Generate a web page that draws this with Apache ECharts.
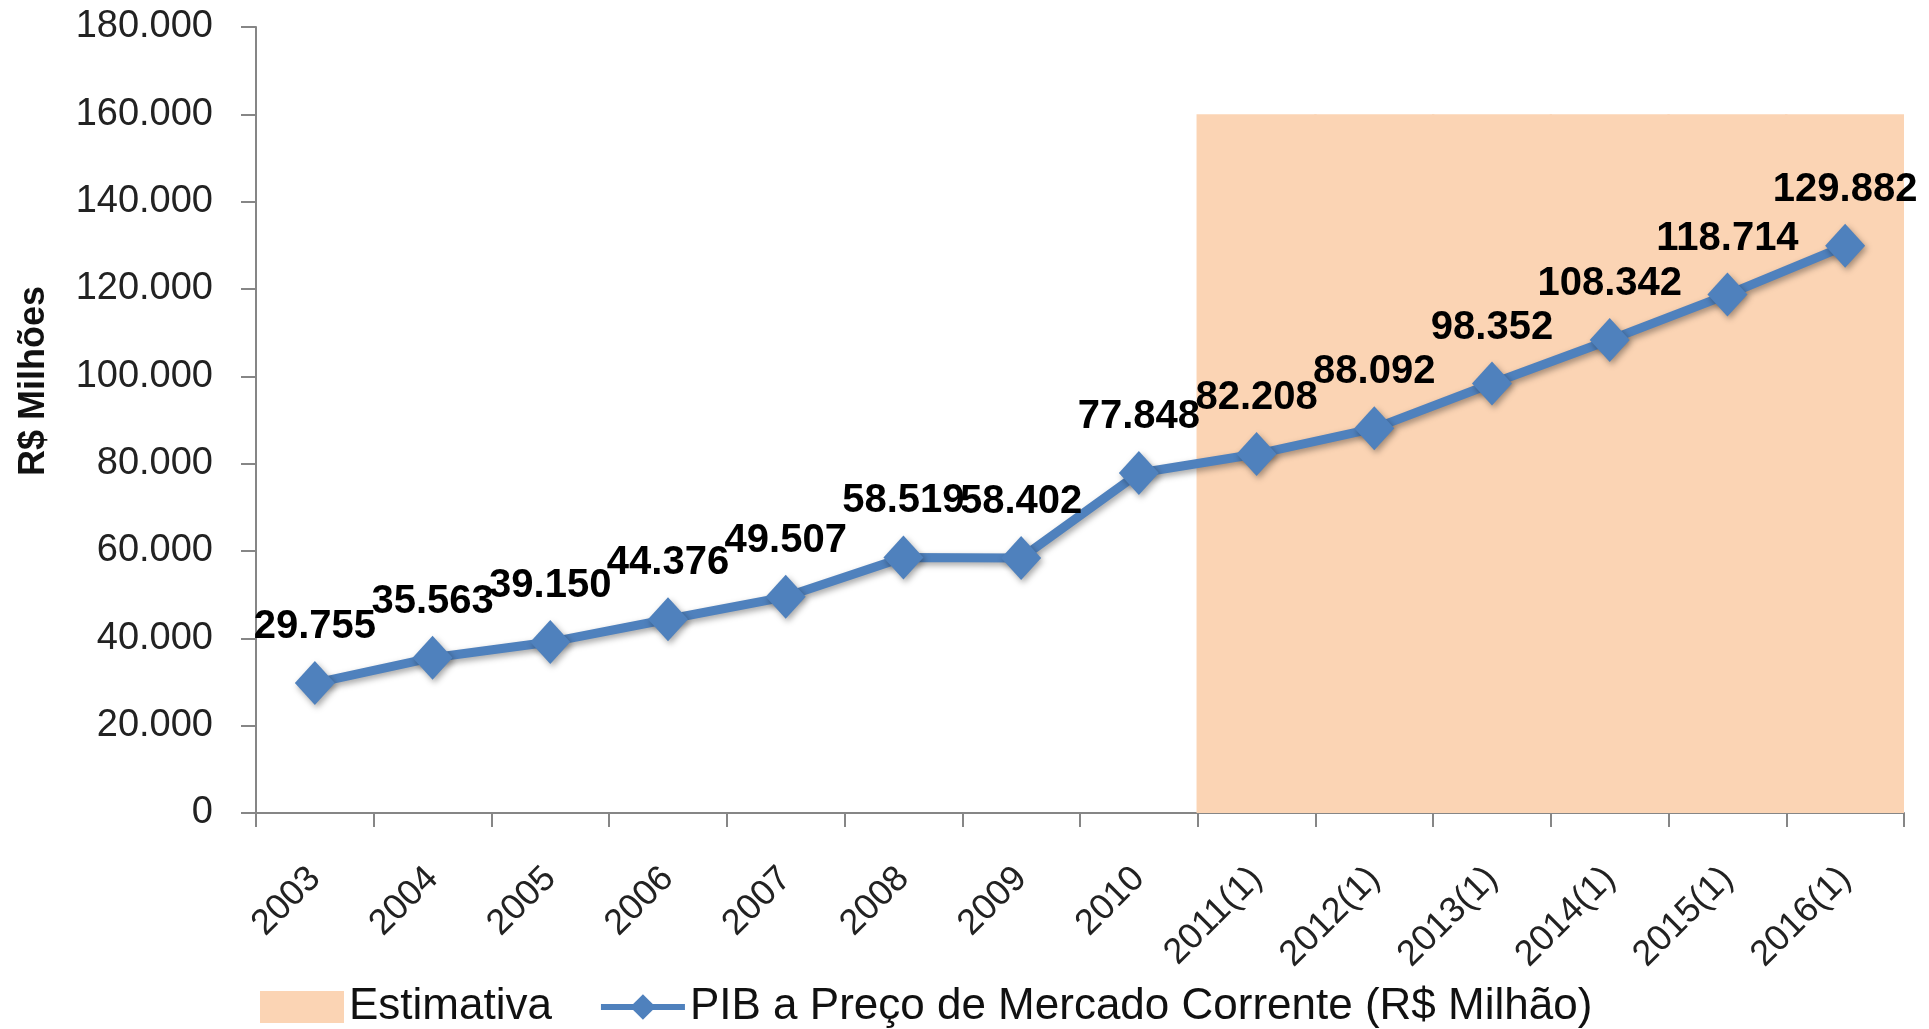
<!DOCTYPE html>
<html>
<head>
<meta charset="utf-8">
<title>PIB a Preço de Mercado Corrente</title>
<script src="https://cdn.jsdelivr.net/npm/echarts@6/dist/echarts.min.js"></script>
<style>
  html, body { margin: 0; padding: 0; background: #fff; }
  #chart { width: 1929px; height: 1029px; }
</style>
</head>
<body>
<div id="chart"></div>
<script>
// values
const categories = ['2003', '2004', '2005', '2006', '2007', '2008', '2009', '2010',
  '2011(1)', '2012(1)', '2013(1)', '2014(1)', '2015(1)', '2016(1)']
const pib = [29755, 35563, 39150, 44376, 49507, 58519, 58402, 77848,
  82208, 88092, 98352, 108342, 118714, 129882]
// shaded "Estimativa" band: filled up to 160.000 for the estimated years
const estimativa = [null, null, null, null, null, null, null, null,
  160000, 160000, 160000, 160000, 160000, 160000]
const yMax = 180000
const yStep = 20000

const fontFamily = '"Liberation Sans", Arial, sans-serif'
const lineColor = '#4F81BD'
const bandColor = '#FBD4B4'
const axisColor = '#868686'

// 29755 -> "29.755"
function fmt(v) {
  return String(v).replace(/\B(?=(\d{3})+(?!\d))/g, '.')
}

const chart = echarts.init(document.getElementById('chart'))
chart.setOption({
  animation: false,
  textStyle: { fontFamily },
  grid: { left: 256, right: 25, top: 27, bottom: 216 },
  legend: {
    left: 255,
    top: 980,
    itemWidth: 84,
    itemHeight: 32,
    itemGap: 46,
    textStyle: { fontSize: 44, color: '#111', fontFamily },
    data: [
      { name: 'Estimativa', icon: 'rect' },
      { name: 'PIB a Preço de Mercado Corrente (R$ Milhão)', lineStyle: { width: 6 } }
    ]
  },
  xAxis: {
    type: 'category',
    data: categories,
    axisLine: { lineStyle: { color: axisColor, width: 2 } },
    axisTick: { show: true, length: 14, lineStyle: { color: axisColor, width: 2 } },
    axisLabel: { rotate: 45, margin: 60, fontSize: 36, color: '#222', interval: 0 }
  },
  yAxis: {
    type: 'value',
    min: 0,
    max: yMax,
    interval: yStep,
    name: 'R$ Milhões',
    nameLocation: 'middle',
    nameGap: 204,
    nameTextStyle: { fontSize: 36, fontWeight: 'bold', color: '#111', padding: [0, 0, 0, 78] },
    axisLine: { show: true, lineStyle: { color: axisColor, width: 2 } },
    axisTick: { show: true, length: 15, lineStyle: { color: axisColor, width: 2 } },
    splitLine: { show: false },
    axisLabel: { margin: 43, fontSize: 38, color: '#222', formatter: fmt }
  },
  series: [
    {
      name: 'Estimativa',
      type: 'bar',
      data: estimativa,
      // slightly wider than the band so neighbouring bars merge without seams
      barWidth: '102%',
      itemStyle: { color: bandColor },
      z: 1,
      silent: true
    },
    {
      name: 'PIB a Preço de Mercado Corrente (R$ Milhão)',
      type: 'line',
      data: pib,
      symbol: 'diamond',
      symbolSize: [40, 44],
      z: 3,
      lineStyle: {
        color: lineColor, width: 9,
        shadowColor: 'rgba(0,0,0,0.35)', shadowBlur: 6, shadowOffsetX: 2, shadowOffsetY: 3
      },
      itemStyle: {
        color: lineColor,
        shadowColor: 'rgba(0,0,0,0.35)', shadowBlur: 6, shadowOffsetX: 2, shadowOffsetY: 3
      },
      label: {
        show: true,
        position: 'top',
        distance: 14,
        fontSize: 40,
        fontWeight: 'bold',
        color: '#000',
        formatter: p => fmt(p.value)
      }
    }
  ]
})
</script>
</body>
</html>
